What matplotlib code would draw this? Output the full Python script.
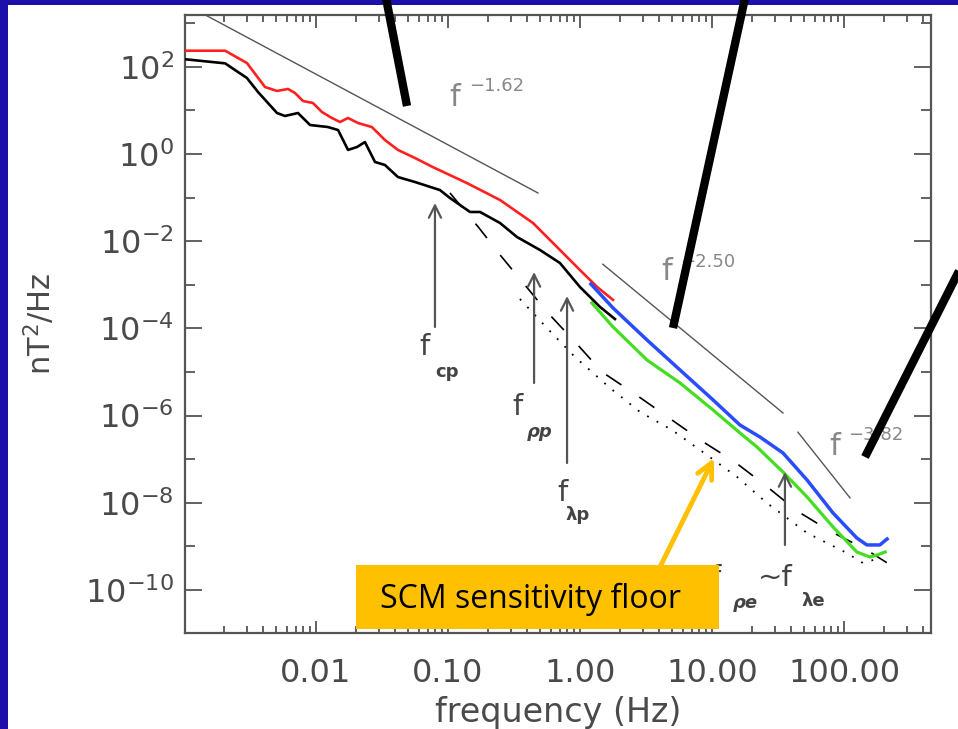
import matplotlib
matplotlib.use("Agg")
import matplotlib.pyplot as plt
import numpy as np
from matplotlib.patches import Rectangle, FancyArrowPatch
from matplotlib.lines import Line2D
from matplotlib.ticker import FixedLocator, FixedFormatter, NullFormatter

# ---------------- data ----------------
red_f = [0.00102, 0.00205, 0.0030, 0.00411, 0.00507, 0.00614, 0.00693, 0.00798, 0.00948,
         0.0111, 0.0132, 0.0152, 0.0175, 0.0208, 0.0265, 0.0333, 0.0418, 0.0562, 0.0769,
         0.139, 0.248, 0.441, 0.670, 1.0, 1.35, 1.78]
red_p = [234, 234, 122, 34.4, 27.9, 31.0, 25.1, 16.4, 14.8,
         9.18, 6.70, 5.42, 6.70, 5.14, 4.16, 2.09, 1.24, 0.81, 0.50,
         0.216, 0.088, 0.0261, 7.36e-3, 2.18e-3, 8.9e-4, 4.5e-4]

black_f = [0.00102, 0.00205, 0.0030, 0.00364, 0.00507, 0.00582, 0.00731, 0.00902, 0.0123,
           0.0147, 0.0175, 0.0205, 0.0235, 0.0280, 0.0333, 0.0418, 0.0562, 0.0869, 0.1035,
           0.147, 0.175, 0.248, 0.333, 0.498, 0.705, 1.0, 1.42, 1.84]
black_p = [149, 120, 55.3, 26.4, 8.71, 7.45, 8.71, 4.62, 4.16,
           3.55, 1.24, 1.45, 1.88, 0.656, 0.560, 0.296, 0.228, 0.149, 0.098,
           0.0468, 0.0468, 0.0261, 0.0125, 6.28e-3, 3.16e-3, 8.9e-4, 3.1e-4, 1.64e-4]

blue_f = [1.21, 1.78, 3.22, 5.73, 10.2, 16.3, 23.1, 34.5, 52.5, 82.6, 125, 149, 187, 212]
blue_p = [1.04e-3, 2.94e-4, 5.42e-5, 1.11e-5, 2.28e-6, 6.08e-7, 3.23e-7, 1.39e-7,
          3.33e-8, 5.83e-9, 1.56e-9, 1.08e-9, 1.08e-9, 1.48e-9]

green_f = [1.23, 1.78, 3.22, 5.73, 10.2, 16.3, 21.9, 34.5, 52.5, 82.6, 125, 157, 178, 205]
green_p = [3.83e-4, 1.08e-4, 1.88e-5, 5.60e-6, 1.34e-6, 3.99e-7, 1.91e-7, 5.08e-8,
           1.36e-8, 2.79e-9, 7.45e-10, 5.71e-10, 6.35e-10, 7.45e-10]

dashed_f = [0.1035, 0.172, 0.252, 0.573, 0.948, 1.47, 2.61, 8.39, 14.9, 25.2, 44.1, 78.3, 149, 265]
dashed_p = [0.128, 0.0201, 4.58e-3, 2.25e-4, 4.39e-5, 1.0e-5, 3.13e-6, 2.61e-7,
            8.63e-8, 2.56e-8, 6.49e-9, 2.25e-9, 8.26e-10, 2.73e-10]

dotted_f = [0.351, 0.562, 0.916, 1.69, 2.85, 4.98, 9.16, 15.5, 26.1, 52.5, 105, 139, 187]
dotted_p = [4.72e-4, 1.02e-4, 2.21e-5, 4.30e-6, 1.21e-6, 4.68e-7, 1.25e-7, 3.91e-8,
            9.89e-9, 2.03e-9, 7.06e-10, 4.16e-10, 5.42e-10]

# power-law guides: exponent, amplitude, frequency range
pl_exponents = [-1.62, -2.50, -3.82]
pl_amplitudes = [10**-1.409, 10**-2.095, 10**-0.073]
pl_fmin = [1.3e-3, 1.49, 44.8]
pl_fmax = [0.48, 34.5, 111]
pl_labels = ["\u22121.62", "\u22122.50", "\u22123.82"]

# characteristic frequency arrows: x, tip, base
arrow_f = [0.0797, 0.449, 0.798, 35.7]
arrow_tip = [10**-1.124, 10**-2.706, 10**-3.257, 10**-7.294]
arrow_base = [10**-3.968, 10**-5.252, 10**-7.087, 10**-8.968]

xtick_vals = [0.01, 0.1, 1, 10, 100]
xtick_labels = ["0.01", "0.10", "1.00", "10.00", "100.00"]
ytick_vals = [1e2, 1e0, 1e-2, 1e-4, 1e-6, 1e-8, 1e-10]
ytick_labels = [r"$10^{2}$", r"$10^{0}$", r"$10^{-2}$", r"$10^{-4}$", r"$10^{-6}$",
                r"$10^{-8}$", r"$10^{-10}$"]
ytick_minor = [1e3, 1e1, 1e-1, 1e-3, 1e-5, 1e-7, 1e-9, 1e-11]

# ---------------- figure ----------------
W, H = 958, 729
fig = plt.figure(figsize=(W / 100, H / 100), dpi=100, facecolor="white")
plt.rcParams["mathtext.default"] = "regular"

def fx(px):
    return px / W

def fy(py):
    return 1 - py / H

ax = fig.add_axes([fx(185), fy(633), fx(931) - fx(185), fy(15) - fy(633)])
ax.set_xscale("log")
ax.set_yscale("log")
ax.set_xlim(10**-2.992, 10**2.659)
ax.set_ylim(10**-10.986, 10**3.188)

axc = "#555555"
for s in ax.spines.values():
    s.set_color(axc)
    s.set_linewidth(1.6)

ax.xaxis.set_major_locator(FixedLocator(xtick_vals))
ax.xaxis.set_major_formatter(FixedFormatter(xtick_labels))
ax.xaxis.set_minor_formatter(NullFormatter())
ax.yaxis.set_major_locator(FixedLocator(ytick_vals))
ax.yaxis.set_major_formatter(FixedFormatter(ytick_labels))
ax.yaxis.set_minor_locator(FixedLocator(ytick_minor))
ax.yaxis.set_minor_formatter(NullFormatter())

ax.tick_params(which="both", direction="in", top=True, right=True, color=axc,
               labelcolor="#4a4a4a", labelsize=23, width=1.3)
ax.tick_params(axis="x", which="major", length=9, pad=18)
ax.tick_params(axis="x", which="minor", length=5)
ax.tick_params(axis="y", which="major", length=12, pad=8)
ax.tick_params(axis="y", which="minor", length=7)

ax.set_xlabel("frequency (Hz)", fontsize=24, color="#4a4a4a", labelpad=5)
ax.set_ylabel(r"nT$^{2}$/Hz", fontsize=22, color="#4a4a4a", labelpad=20)

# curves
ax.plot(red_f, red_p, color="#ff2020", lw=1.9, zorder=4)
ax.plot(black_f, black_p, color="black", lw=1.9, zorder=4)
ax.plot(blue_f, blue_p, color="#2a4cff", lw=2.5, zorder=4)
ax.plot(green_f, green_p, color="#44dd22", lw=2.3, zorder=3)
ax.plot(dashed_f, dashed_p, color="black", lw=1.2, ls=(0, (11, 13)), zorder=2)
ax.plot(dotted_f, dotted_p, color="black", lw=1.3, ls=(0, (1, 5)), zorder=2)

# power-law guides
for e, a, f0, f1 in zip(pl_exponents, pl_amplitudes, pl_fmin, pl_fmax):
    ff = np.array([f0, f1])
    ax.plot(ff, a * ff**e, color="#555555", lw=1.0, zorder=2)

# power-law labels
gl = "#888888"
ax.text(10**-0.947, 10**1.307, "f", fontsize=22, color=gl, ha="center", va="center")
ax.text(10**-0.84, 10**1.56, pl_labels[0], fontsize=13, color=gl, ha="left", va="center")
ax.text(10**0.659, 10**-2.706, "f", fontsize=22, color=gl, ha="center", va="center")
ax.text(10**0.76, 10**-2.477, pl_labels[1], fontsize=13, color=gl, ha="left", va="center")
ax.text(10**1.932, 10**-6.72, "f", fontsize=22, color=gl, ha="center", va="center")
ax.text(10**2.03, 10**-6.445, pl_labels[2], fontsize=13, color=gl, ha="left", va="center")

# characteristic frequency arrows
for xf, tip, base in zip(arrow_f, arrow_tip, arrow_base):
    ax.annotate("", xy=(xf, tip), xytext=(xf, base),
                arrowprops=dict(arrowstyle="->", color="#555555", lw=1.6,
                                mutation_scale=22, shrinkA=0, shrinkB=0), zorder=5)

lc = "#444444"
ax.text(10**-1.174, 10**-4.427, "f", fontsize=21, color=lc, ha="center", va="center")
ax.text(10**-1.008, 10**-5.0, "cp", fontsize=13, color=lc, ha="center", va="center",
        fontweight="bold")
ax.text(10**-0.477, 10**-5.803, "f", fontsize=21, color=lc, ha="center", va="center")
ax.text(10**-0.303, 10**-6.376, "\u03c1p", fontsize=13, color=lc, ha="center", va="center",
        fontweight="bold", fontstyle="italic")
ax.text(10**-0.129, 10**-7.775, "f", fontsize=21, color=lc, ha="center", va="center")
ax.text(10**-0.015, 10**-8.28, "\u03bbp", fontsize=13, color=lc, ha="center", va="center",
        fontweight="bold")
ax.text(10**1.03, 10**-9.725, "f", fontsize=21, color=lc, ha="center", va="center")
ax.text(10**1.25, 10**-10.30, "\u03c1e", fontsize=13, color=lc, ha="center", va="center",
        fontweight="bold", fontstyle="italic")
ax.text(10**1.477, 10**-9.725, "~f", fontsize=21, color=lc, ha="center", va="center")
ax.text(10**1.765, 10**-10.25, "\u03bbe", fontsize=13, color=lc, ha="center", va="center",
        fontweight="bold")

# ---------------- slide overlay ----------------
blue = "#1d10aa"
fig.add_artist(Rectangle((0, 0), fx(8), 1, transform=fig.transFigure,
                         facecolor=blue, edgecolor="none", zorder=10))
fig.add_artist(Rectangle((0, fy(5)), 1, 1 - fy(5), transform=fig.transFigure,
                         facecolor=blue, edgecolor="none", zorder=10))

for (x0, y0), (x1, y1) in [((386, -2), (407, 106)), ((745, -2), (673, 328)),
                           ((961, 267), (865, 457))]:
    fig.add_artist(Line2D([fx(x0), fx(x1)], [fy(y0), fy(y1)], transform=fig.transFigure,
                          color="black", lw=6, solid_capstyle="butt", zorder=11))

orange = "#ffc000"
fig.add_artist(FancyArrowPatch((fx(660), fy(567)), (fx(714), fy(458)),
                               transform=fig.transFigure, arrowstyle="->",
                               color=orange, lw=3.5, mutation_scale=28,
                               shrinkA=0, shrinkB=0, zorder=11))
fig.add_artist(Rectangle((fx(356), fy(629)), fx(719) - fx(356), fy(565) - fy(629),
                         transform=fig.transFigure, facecolor=orange, edgecolor="none",
                         zorder=12))
fig.text(fx(531), fy(599), "SCM sensitivity floor", fontsize=23, family="Open Sans",
         color="black", ha="center", va="center", zorder=13)

fig.savefig("out.png", dpi=100, facecolor="white")
